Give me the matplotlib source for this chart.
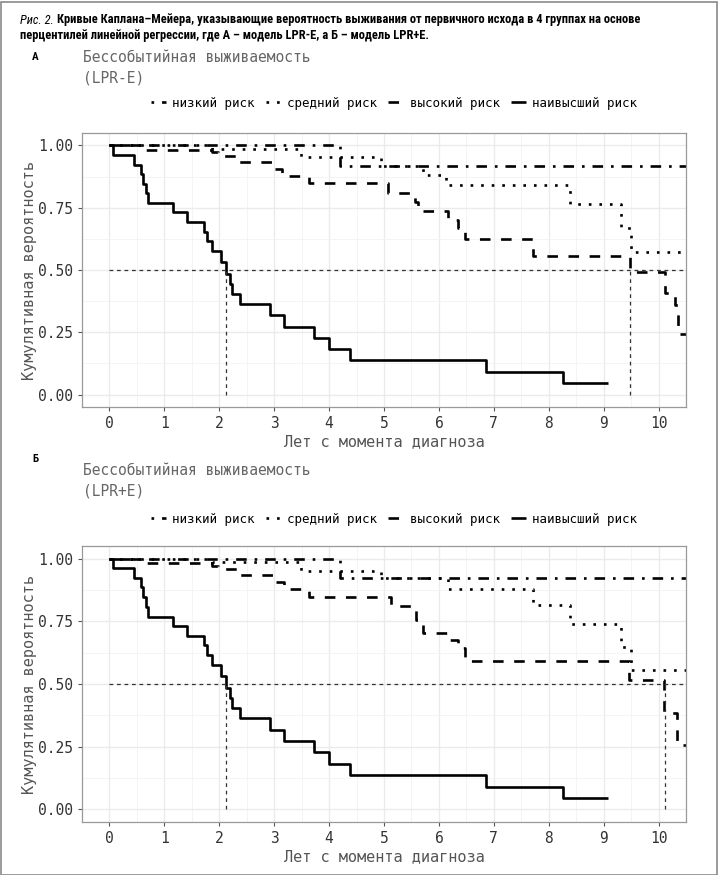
import matplotlib.pyplot as plt
from matplotlib import font_manager
from matplotlib.patches import Rectangle
from matplotlib.ticker import MultipleLocator

# --- data (years, survival probability) ---
groups = ['низкий риск', 'средний риск', 'высокий риск', 'наивысший риск']

# panel A (LPR-E)
t_low_a = [0, 4.20, 10.6]
s_low_a = [1.0, 0.916, 0.916]
t_mid_a = [0, 1.86, 3.49, 4.95, 5.71, 6.13, 8.39, 9.32, 9.50, 10.6]
s_mid_a = [1.0, 0.985, 0.952, 0.916, 0.882, 0.843, 0.766, 0.668, 0.573, 0.573]
t_high_a = [0, 0.64, 1.86, 1.97, 2.35, 3.01, 3.15, 3.64, 5.07, 5.56, 5.62, 6.16,
            6.35, 6.47, 7.71, 9.48, 10.12, 10.30, 10.36, 10.6]
s_high_a = [1.0, 0.981, 0.972, 0.958, 0.934, 0.904, 0.877, 0.848, 0.811, 0.774, 0.736, 0.702,
            0.669, 0.626, 0.558, 0.490, 0.408, 0.360, 0.244, 0.244]
t_top_a = [0, 0.06, 0.45, 0.58, 0.62, 0.67, 0.71, 1.16, 1.41, 1.73, 1.78, 1.87, 2.03,
           2.13, 2.19, 2.23, 2.37, 2.92, 3.17, 3.73, 3.99, 4.38, 6.85, 8.26, 9.08]
s_top_a = [1.0, 0.962, 0.923, 0.885, 0.846, 0.808, 0.769, 0.731, 0.692, 0.654, 0.615, 0.577, 0.531,
           0.485, 0.444, 0.404, 0.364, 0.318, 0.273, 0.227, 0.182, 0.137, 0.091, 0.045, 0.045]
medians_a = [2.13, 9.48]

# panel B (LPR+E)
t_low_b = [0, 4.20, 10.6]
s_low_b = [1.0, 0.921, 0.921]
t_mid_b = [0, 1.86, 3.49, 4.95, 6.16, 7.72, 8.39, 9.32, 9.50, 10.6]
s_mid_b = [1.0, 0.985, 0.950, 0.921, 0.877, 0.815, 0.739, 0.646, 0.554, 0.554]
t_high_b = [0, 0.64, 1.86, 1.97, 2.35, 3.03, 3.17, 3.64, 5.13, 5.59, 5.71, 6.18,
            6.35, 6.47, 9.47, 10.10, 10.33, 10.6]
s_high_b = [1.0, 0.981, 0.972, 0.957, 0.936, 0.906, 0.877, 0.846, 0.810, 0.757, 0.705, 0.677,
            0.644, 0.590, 0.517, 0.384, 0.257, 0.257]
t_top_b = t_top_a
s_top_b = s_top_a
medians_b = [2.13, 10.12]

x_ticks = list(range(0, 11))
y_ticks = [0.0, 0.25, 0.5, 0.75, 1.0]

caption_1 = 'Кривые Каплана–Мейера, указывающие вероятность выживания от первичного исхода в 4 группах на основе'
caption_2 = 'перцентилей линейной регрессии, где А – модель LPR-E, а Б – модель LPR+E.'

# --- styling ---
mono = 'DejaVu Sans Mono'
names = {f.name for f in font_manager.fontManager.ttflist}
cap_font = 'Liberation Sans'
for cand in ['Liberation Sans Narrow', 'Roboto Condensed', 'Noto Sans Condensed',
             'Open Sans Condensed', 'DejaVu Sans Condensed']:
    if cand in names:
        cap_font = cand
        break
styles = [(0, (1, 3, 4, 3)), (0, (1, 3)), (0, (4, 4)), '-']

fig = plt.figure(figsize=(7.2, 8.75), dpi=100)
W, H = 720, 875


def fx(px):
    return px / W


def fy(py):
    return 1 - py / H


def panel(rect, curves, medians, title, letter, title_y, letter_y, legend_y):
    ax = fig.add_axes(rect)
    for (t, s), ls, lab in zip(curves, styles, groups):
        ax.step(t, s, where='post', color='black', lw=1.9, linestyle=ls, label=lab,
                solid_capstyle='butt', dash_capstyle='butt')
    # median lines
    ax.plot([0, 10.6], [0.5, 0.5], color='#333333', lw=0.9, linestyle=(0, (3, 3)))
    for m in medians:
        ax.plot([m, m], [0, 0.5], color='#333333', lw=0.9, linestyle=(0, (3, 3)))
    ax.set_xlim(-0.5, 10.5)
    ax.set_ylim(-0.05, 1.05)
    ax.set_xticks(x_ticks)
    ax.set_yticks(y_ticks)
    ax.set_yticklabels(['%.2f' % v for v in y_ticks])
    ax.xaxis.set_minor_locator(MultipleLocator(0.5))
    ax.yaxis.set_minor_locator(MultipleLocator(0.125))
    ax.grid(True, which='major', color='#ebebeb', lw=1.0)
    ax.grid(True, which='minor', color='#f3f3f3', lw=0.6)
    ax.set_axisbelow(True)
    ax.tick_params(which='minor', length=0)
    ax.tick_params(which='major', length=3, color='#555555', width=0.8,
                   labelsize=10.5, labelcolor='#333333')
    for lbl in ax.get_xticklabels() + ax.get_yticklabels():
        lbl.set_family(mono)
    for sp in ax.spines.values():
        sp.set_color('#999999')
        sp.set_linewidth(0.9)
    ax.set_xlabel('Лет с момента диагноза', family=mono, fontsize=11, color='#555555', labelpad=2)
    ax.set_ylabel('Кумулятивная вероятность', family=mono, fontsize=11, color='#555555', labelpad=1)
    fig.text(fx(35), fy(letter_y), letter, family=cap_font, weight='bold', fontsize=8,
             ha='center', va='center')
    fig.text(fx(83), fy(title_y), title, family=mono, fontsize=10.5, color='#666666',
             va='center', linespacing=1.45)
    leg = fig.legend(*ax.get_legend_handles_labels(), loc='center',
                     bbox_to_anchor=(fx(394), fy(legend_y)), ncol=4, frameon=False,
                     handlelength=1.2, handletextpad=0.5, columnspacing=0.9,
                     prop={'family': mono, 'size': 9})
    for ln in leg.get_lines():
        ln.set_linewidth(1.9)
    return ax


curves_a = [(t_low_a, s_low_a), (t_mid_a, s_mid_a), (t_high_a, s_high_a), (t_top_a, s_top_a)]
curves_b = [(t_low_b, s_low_b), (t_mid_b, s_mid_b), (t_high_b, s_high_b), (t_top_b, s_top_b)]

panel([fx(82), fy(407), fx(686) - fx(82), fy(133) - fy(407)], curves_a, medians_a,
      'Бессобытийная выживаемость\n(LPR-E)', 'А', 68, 57, 103)
panel([fx(82), fy(822), fx(686) - fx(82), fy(546) - fy(822)], curves_b, medians_b,
      'Бессобытийная выживаемость\n(LPR+E)', 'Б', 481, 459, 519)

# caption: first line should end near x = 650 px, shrink the font to fit
fig.canvas.draw()
r = fig.canvas.get_renderer()
size = 9.0
for _ in range(3):
    c1 = fig.text(fx(20), fy(20), 'Рис. 2.', family=cap_font, style='italic', fontsize=size, va='center')
    bb = c1.get_window_extent(r)
    c1b = fig.text((bb.x1 + 3) / W, fy(20), caption_1, family=cap_font, weight='bold',
                   fontsize=size, va='center')
    end = c1b.get_window_extent(r).x1
    if end <= 652:
        break
    c1.remove()
    c1b.remove()
    size = size * (650 - 20) / (end - 20)
fig.text(fx(20), fy(36), caption_2, family=cap_font, weight='bold', fontsize=size, va='center')

fig.add_artist(Rectangle((0.5 / W, 0.5 / H), 1 - 4 / W, 1 - 2 / H, transform=fig.transFigure,
                         fill=False, edgecolor='#8a8a8a', lw=1.2))

fig.savefig('out.png', dpi=100)
